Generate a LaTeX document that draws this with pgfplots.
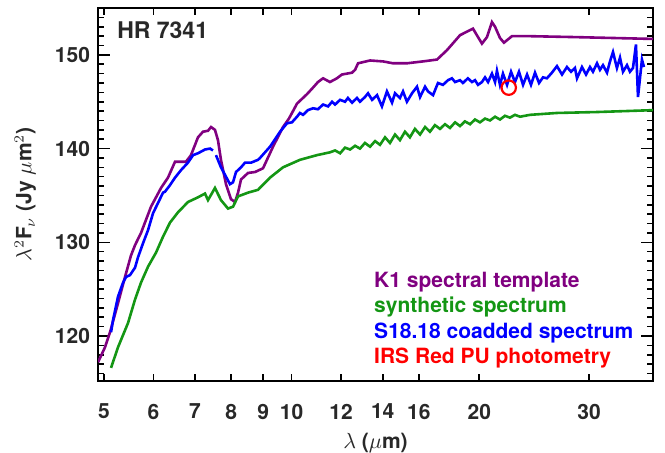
\documentclass[border=0pt]{standalone}
\usepackage{fontspec}
\setmainfont{TeX Gyre Heros}
\usepackage{pgfplots}
\pgfplotsset{compat=1.18}
\definecolor{kpurple}{RGB}{128,0,128}
\definecolor{sgreen}{RGB}{20,150,20}
\definecolor{tblue}{RGB}{0,0,255}
\definecolor{txt}{RGB}{40,40,40}
\newcommand{\ff}{\fontsize{10.5}{12}\selectfont\bfseries}
\begin{document}
\begin{tikzpicture}
\path[use as bounding box] (-49pt,-35.5pt) rectangle (283.5pt,190.5pt);
\begin{axis}[
  at={(0,0)}, anchor=south west,
  scale only axis, width=277.5pt, height=186.5pt,
  xmode=log, xmin=4.89, xmax=38, ymin=115.2, ymax=155,
  xtick={5,6,7,8,9,10,12,14,16,20,30},
  xticklabels={5,6,7,8,9,10,12,14,16,20,30},
  xminorticks=false,
  ytick={120,130,140,150},
  yticklabels={120,130,140,150},
  minor ytick={116,117,...,154},
  axis line style={line width=0.9pt},
  every tick/.style={black, line width=0.8pt},
  major tick length=6pt, minor tick length=2.8pt,
  xtick style={/pgfplots/major tick length=3.5pt},
  tick label style={font=\ff, text=txt},
  xticklabel style={anchor=center, yshift=-15.25pt},
  yticklabel style={anchor=east, xshift=-0.5pt},
  xlabel={$\lambda$ ($\mu$m)},
  ylabel={$\lambda^2$F$_\nu$ (Jy $\mu$m$^2$)},
  xlabel style={at={(axis description cs:0.5,-0.165)}, anchor=center, font=\ff, text=txt},
  ylabel style={at={(axis description cs:-0.131,0.5)}, anchor=center, font=\ff, text=txt},
  clip=true,
]
% K1 spectral template
\addplot[kpurple, line width=1.3pt] coordinates {
(4.890,117.2)(5.018,118.8)(5.112,120.4)(5.265,123.5)(5.403,126.3)(5.524,128.6)
(5.607,129.7)(5.732,131.0)(5.948,133.8)(6.172,135.8)(6.333,136.9)(6.500,138.6)
(6.769,138.6)(6.895,139.3)(7.075,141.2)(7.208,141.8)(7.342,141.9)(7.424,142.3)
(7.534,142.0)(7.618,140.9)(7.703,138.8)(7.847,136.2)(7.993,134.6)(8.112,134.3)
(8.203,135.3)(8.294,136.7)(8.512,137.4)(8.735,137.5)(8.997,137.9)(9.335,140.2)
(9.686,142.3)(9.90,143.2)(10.05,144.0)(10.20,144.8)(10.58,145.8)(10.82,146.5)
(11.02,147.1)(11.23,147.5)(11.52,147.1)(11.82,147.5)(12.04,147.9)(12.50,148.1)
(12.64,148.4)(12.78,149.1)(13.36,149.4)(14.02,149.3)
(14.54,149.1)(15.31,149.1)(16.24,149.3)(17.11,149.5)(17.75,150.5)(18.63,152.1)
(19.54,152.8)(19.91,151.9)(20.20,151.2)(20.58,151.9)(20.96,153.5)(21.20,153.0)
(21.59,151.8)(21.91,151.3)(22.57,152.0)(23.86,152.0)(28.28,151.9)(38.0,151.7)
};
% synthetic spectrum
\addplot[sgreen, line width=1.3pt] coordinates {
(5.131,116.6)(5.265,118.8)(5.464,121.4)(5.607,123.9)(5.732,125.7)(5.883,127.4)
(6.059,128.9)(6.218,130.6)(6.380,132.1)(6.572,133.2)(6.819,134.3)(7.075,134.8)
(7.261,135.2)(7.342,134.5)(7.534,135.8)(7.703,134.5)(7.905,133.6)(8.052,133.8)
(8.203,134.9)(8.512,135.3)(8.832,135.6)(9.232,136.9)(9.686,138.0)(10.31,138.8)
(10.98,139.3)(11.52,139.6)(11.74,139.8)(11.96,139.5)(12.18,140.1)(12.41,139.9)
(12.64,140.3)(12.87,140.0)(13.11,140.6)(13.36,140.2)(13.61,140.8)(13.86,140.4)
(14.12,141.2)(14.38,140.6)(14.65,141.5)(14.92,140.9)(15.20,141.8)(15.48,141.2)
(15.77,142.1)(16.07,141.5)(16.37,142.3)(16.67,141.8)(16.98,142.5)(17.30,142.1)
(17.62,142.6)(17.95,142.2)(18.29,142.8)(18.63,142.4)(18.97,142.9)(19.33,142.6)
(19.69,143.1)(20.05,142.8)(20.43,143.2)(20.81,143.0)(21.20,143.4)(21.59,143.1)
(21.99,143.5)(22.40,143.3)(22.82,143.6)(23.25,143.4)(24.12,143.6)(26.65,143.8)
(30.90,143.9)(38.0,144.1)
};
% S18.18 coadded spectrum, short segment
\addplot[tblue, line width=1.3pt] coordinates {
(5.131,120.4)(5.169,121.7)(5.265,124.2)(5.364,125.7)(5.423,126.3)(5.504,126.5)
(5.607,127.3)(5.669,128.4)(5.775,129.9)(5.883,131.3)(5.992,133.1)(6.104,134.2)
(6.218,135.3)(6.264,135.4)(6.380,136.1)(6.500,136.9)(6.645,137.7)(6.819,138.5)
(6.947,139.3)(7.075,139.5)(7.261,139.9)(7.397,140.0)(7.479,139.8)
};
% S18.18 coadded spectrum, long segment
\addplot[tblue, line width=1.3pt] coordinates {
(7.562,139.3)(7.703,138.0)(7.847,137.0)(7.964,136.2)(8.052,136.4)(8.142,137.5)
(8.294,138.0)(8.418,138.5)(8.607,138.5)(8.832,138.8)(8.897,139.0)(9.232,140.2)
(9.580,141.8)(9.831,142.7)(10.01,142.8)(10.20,143.4)(10.31,143.8)(10.43,143.6)
(10.62,144.1)(10.82,144.3)(11.02,144.2)(11.23,144.7)(11.44,144.5)(11.61,145.0)
(11.74,144.7)(11.96,145.2)(12.18,145.0)(12.31,145.4)(12.50,144.9)(12.73,145.4)
(12.87,145.0)(13.11,145.5)(13.26,145.9)(13.46,145.2)(13.71,145.7)(13.96,144.5)
(14.22,146.1)(14.49,144.9)(14.65,145.9)(14.92,145.4)(15.09,146.1)(15.31,145.0)
(15.60,145.9)(15.89,146.6)(16.07,145.5)(16.37,146.6)(16.55,146.1)(16.86,145.7)
(17.17,147.0)(17.49,146.8)(17.82,147.3)(18.08,147.5)(18.29,147.1)(18.63,147.3)
(18.83,147.0)(19.18,147.5)(19.47,147.1)(19.69,147.3)(19.91,146.8)(20.20,147.1)
(20.43,147.6)(20.66,147.1)(20.96,148.0)(21.20,147.1)(21.35,148.3)(21.59,146.8)
(21.83,148.0)(22.16,146.8)(22.49,148.2)(22.82,147.1)(23.16,148.2)(23.51,146.8)
(23.86,147.9)(24.21,146.8)(24.57,148.1)(24.94,147.0)(25.31,147.6)(25.68,147.5)
(26.16,148.1)(26.65,148.8)(27.15,147.9)(27.65,148.7)(28.07,148.2)(28.48,148.6)
(28.70,147.5)(29.23,148.7)(29.67,147.9)(30.11,148.7)(30.44,148.2)(30.90,149.1)
(31.24,148.4)(31.59,148.9)(32.06,148.1)(32.42,149.3)(32.78,150.3)(33.26,148.6)
(33.64,149.7)(34.01,148.2)(34.52,148.9)(34.90,148.2)(35.29,148.6)(35.68,151.1)
(35.95,145.5)(36.48,149.5)(36.75,148.7)
};
% IRS Red PU photometry
\addplot[only marks, mark=o, mark size=3.6pt, red, line width=1.1pt] coordinates {(22.3,146.5)};
\node[anchor=west, font=\fontsize{11.5}{13}\selectfont\bfseries, text=txt] at (rel axis cs:0.022,0.941) {HR 7341};
\node[anchor=west, font=\ff, text=kpurple] at (rel axis cs:0.485,0.265) {K1 spectral template};
\node[anchor=west, font=\ff, text=sgreen] at (rel axis cs:0.485,0.198) {synthetic spectrum};
\node[anchor=west, font=\ff, text=tblue] at (rel axis cs:0.485,0.129) {S18.18 coadded spectrum};
\node[anchor=west, font=\ff, text=red] at (rel axis cs:0.485,0.062) {IRS Red PU photometry};
\end{axis}
\end{tikzpicture}
\end{document}
